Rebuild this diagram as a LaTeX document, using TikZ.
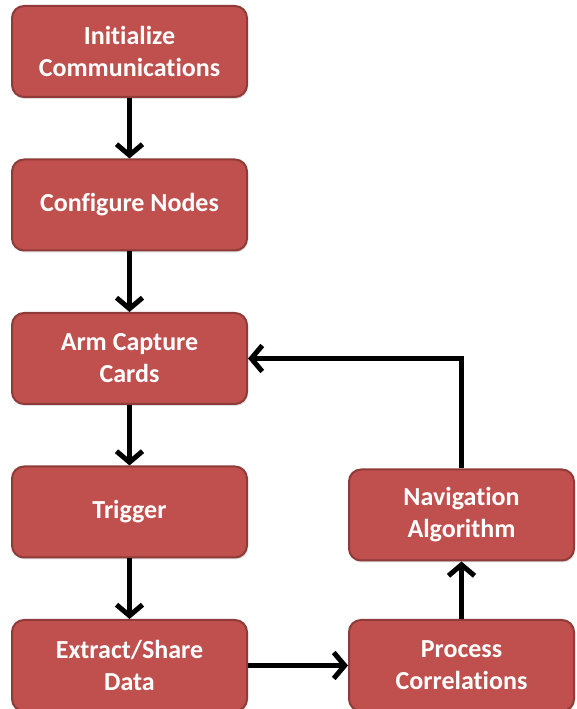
\documentclass[tikz,border=0pt]{standalone}
\usepackage{fontspec}
\setmainfont{Carlito}[Ligatures=NoCommon]
\usetikzlibrary{arrows.meta, positioning, shadows}

\definecolor{boxred}{HTML}{C0504D}
\definecolor{boxedge}{HTML}{8E3B39}

\begin{document}
\begin{tikzpicture}[
    x=1pt, y=1pt,
    font=\fontsize{26}{32}\selectfont\bfseries,
    node distance=60.5pt,
    stepbox/.style={
        rectangle,
        rounded corners=12pt,
        draw=boxedge,
        line width=2pt,
        fill=boxred,
        text=white,
        align=center,
        minimum width=235pt,
        minimum height=91pt,
        inner sep=2pt,
        drop shadow={shadow xshift=1pt, shadow yshift=-2pt, opacity=0.25}
    },
    sidebox/.style={
        stepbox,
        minimum width=225pt
    },
    flow/.style={
        -{Straight Barb[length=11pt, width=26pt, line width=5pt]},
        line width=5pt,
        black
    }
]

\useasboundingbox (0,0) rectangle (576,709);

% Linke Spalte
\node[stepbox] (init) at (129.5,657.5) {Initialize\\Communications};
\node[stepbox, below=of init] (conf) {Configure Nodes};
\node[stepbox, below=of conf] (arm) {Arm Capture\\Cards};
\node[stepbox, below=of arm] (trig) {Trigger};
\node[stepbox, below=of trig] (extr) {Extract/Share\\Data};

% Rechte Spalte
\node[sidebox] (proc) at (461.5,0 |- extr) {Process\\Correlations};
\node[sidebox, above=57.5pt of proc] (nav) {Navigation\\Algorithm};

% Ablauf
\draw[flow] (init) -- (conf);
\draw[flow] (conf) -- (arm);
\draw[flow] (arm) -- (trig);
\draw[flow] (trig) -- (extr);
\draw[flow] (extr) -- (proc);
\draw[flow] (proc) -- (nav);

% Rueckfuehrung
\draw[flow] (nav.north) |- (arm.east);

\end{tikzpicture}
\end{document}
